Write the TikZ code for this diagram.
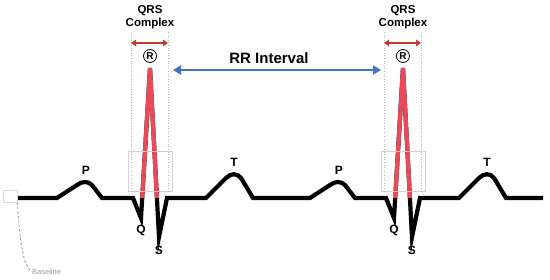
\documentclass[tikz,border=0pt]{standalone}
\usepackage{fontspec}
\setmainfont{Liberation Sans}
\usetikzlibrary{arrows.meta,calc}
\definecolor{spikered}{RGB}{232,74,88}
\definecolor{qrsred}{RGB}{196,58,50}
\definecolor{rrblue}{RGB}{68,114,196}
\definecolor{basegray}{RGB}{145,155,165}

\begin{document}
\begin{tikzpicture}[x=1pt,y=-1pt,
	wave/.style={line width=4.2pt},
	guide/.style={gray!55,line width=0.6pt,dash pattern=on 1pt off 1.6pt},
	qrsarrow/.style={qrsred,line width=2.2pt,{Triangle[length=5pt,width=6.5pt]}-{Triangle[length=5pt,width=6.5pt]}},
	wavelbl/.style={font=\bfseries\fontsize{12}{12}\selectfont},
	rmark/.style={circle,draw,line width=0.8pt,inner sep=0pt,minimum size=13pt,font=\bfseries\fontsize{10}{10}\selectfont}]
	\useasboundingbox (0,0) rectangle (550,280);
	\coordinate (q1) at (141,218); \coordinate (r1) at (150,68); \coordinate (s1) at (159,237);
	\coordinate (q2) at (394,218); \coordinate (r2) at (403,68); \coordinate (s2) at (412,237);
	\draw[wave] (17,198) -- (57,198) -- (77,185) .. controls (82,181) and (88,181) .. (92,185) -- (102,198)
		-- (133,198) -- (q1) -- (r1) -- (s1) -- (167,198) -- (206,198) -- (226,178)
		.. controls (231,173) and (237,173) .. (241,178) -- (253,198) -- (310,198) -- (330,185)
		.. controls (335,181) and (341,181) .. (345,185) -- (355,198) -- (386,198) -- (q2) -- (r2)
		-- (s2) -- (420,198) -- (459,198) -- (479,178) .. controls (484,173) and (490,173) .. (494,178)
		-- (506,198) -- (543,198);
	\draw[wave,spikered] ($(q1)!0.133!(r1)$) -- (r1) -- ($(r1)!0.769!(s1)$);
	\draw[wave,spikered] ($(q2)!0.133!(r2)$) -- (r2) -- ($(r2)!0.769!(s2)$);
	\draw[gray!35,line width=0.6pt] (128,151) rectangle (172,191);
	\draw[gray!35,line width=0.6pt] (381,151) rectangle (425,191);
	\draw[guide] (131,32) -- (131,191); \draw[guide] (168,32) -- (168,191);
	\draw[guide] (384,32) -- (384,191); \draw[guide] (421,32) -- (421,191);
	\node[align=center,font=\bfseries\fontsize{11.5}{13.5}\selectfont] (qrsA) at (150,17) {QRS\\Complex};
	\node[align=center,font=\bfseries\fontsize{11.5}{13.5}\selectfont] (qrsB) at (403,17) {QRS\\Complex};
	\coordinate (qlA) at (131,43); \coordinate (qrA) at (168,43);
	\coordinate (qlB) at (384,43); \coordinate (qrB) at (421,43);
	\draw[qrsarrow] (qlA) -- (qrA);
	\draw[qrsarrow] (qlB) -- (qrB);
	\node[rmark] (rA) at (150,56) {R};
	\node[rmark] (rB) at (403,56) {R};
	\node[font=\bfseries\fontsize{15}{15}\selectfont] (rr) at (269,58) {RR Interval};
	\coordinate (rrl) at (173,70); \coordinate (rrr) at (381,70);
	\draw[rrblue,line width=2.8pt,{Triangle[length=8pt,width=9pt]}-{Triangle[length=8pt,width=9pt]}] (rrl) -- (rrr);
	\node[wavelbl] (pA) at (86,170) {P};
	\node[wavelbl] (qA) at (141,230) {Q};
	\node[wavelbl] (sA) at (159,250) {S};
	\node[wavelbl] (tA) at (234,162) {T};
	\node[wavelbl] (pB) at (339,170) {P};
	\node[wavelbl] (qB) at (394,230) {Q};
	\node[wavelbl] (sB) at (412,250) {S};
	\node[wavelbl] (tB) at (487,162) {T};
	\node[draw=gray!30,line width=0.6pt,minimum width=14pt,minimum height=12pt,inner sep=0pt] (base) at (10,196) {};
	\node[anchor=west,inner sep=1pt,text=basegray,font=\fontsize{7.5}{7.5}\selectfont] (baselbl) at (31,272) {Baseline};
	\draw[basegray,line width=0.8pt,dash pattern=on 2.5pt off 2pt] (base.south east) .. controls (20,240) and (22,262) .. (baselbl.west);
\end{tikzpicture}
\end{document}
